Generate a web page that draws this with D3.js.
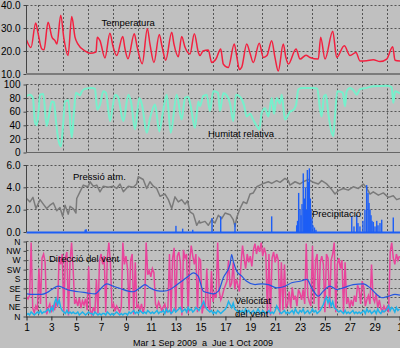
<!DOCTYPE html>
<html>
<head>
<meta charset="utf-8">
<script src="https://cdn.jsdelivr.net/npm/d3@7"></script>
<style>
  html, body { margin: 0; padding: 0; background: #c0c0c0; }
  svg { display: block; }
  text { font-family: "Liberation Sans", Arial, sans-serif; fill: #000; }
</style>
</head>
<body>
<svg id="chart" width="400" height="348"></svg>
<script>
// Weather station, 1 Sep 2009 – 1 Oct 2009. Times are days since 1 Sep 00:00.

// Temperature (°C)
const temperature = [
  [0.00,24.8],[0.36,21.5],[0.74,32.2],[0.92,28],[1.22,21],[1.41,20.5],[1.73,32.5],[2.05,26],
  [2.29,24.5],[2.45,23],[2.75,35.5],[3.02,25],[3.34,18],[3.64,35],[3.90,26],[4.14,23],
  [4.71,20],[5.11,19],[5.59,19.5],[5.69,26],[5.91,24.5],[6.31,17],[6.71,27.7],[6.96,22],
  [7.25,18],[7.74,26.3],[7.92,21],[8.16,16.6],[8.67,27.5],[8.89,22],[9.31,14.5],[9.72,29.7],
  [9.93,23],[10.25,15],[10.68,27.2],[10.90,22],[11.20,16],[11.68,28.2],[11.86,23],[12.21,17.5],
  [12.48,26.3],[12.75,21.6],[13.15,18.7],[13.50,27.5],[13.82,19.4],[13.95,18],[14.20,20],
  [14.62,20.4],[14.90,15],[15.24,16.5],[15.62,20.9],[15.83,14.3],[16.23,12.8],[16.71,23],
  [16.93,17],[17.12,12],[17.31,13],[17.71,23],[17.98,19],[18.24,15],[18.72,23.4],[19.05,17.2],
  [19.34,18],[19.72,24.5],[19.99,17],[20.25,11.3],[20.65,23],[20.87,17],[21.06,14.3],
  [21.68,20.9],[22.00,16.5],[22.48,18.2],[22.80,17.2],[23.47,16.5],[23.66,26],[24.01,16.5],
  [24.63,28.6],[24.95,17.2],[25.56,22.3],[26.02,18],[26.50,19.4],[26.82,15.7],[27.36,15.8],
  [27.89,16.2],[28.43,15.4],[28.97,16.5],[29.45,21.9],[29.64,16],[30.04,15.6]
];

// Relative humidity (%)
const humidity = [
  [0.00,83],[0.28,85],[0.52,80],[0.68,44],[0.80,40],[0.92,50],[1.09,85],[1.35,86],[1.62,39],
  [1.81,55],[2.03,75],[2.21,74],[2.37,46],[2.56,19],[2.77,9],[2.94,40],[3.10,75],[3.36,77],
  [3.64,22],[3.82,60],[3.98,88],[4.30,84],[4.46,90],[4.71,93.6],[5.24,95],[5.51,94],[5.69,63],
  [5.91,70],[6.18,90],[6.39,88],[6.72,46],[7.12,85],[7.36,82],[7.79,46],[8.19,85],[8.40,75],
  [8.73,34],[9.07,80],[9.29,70],[9.67,29],[9.93,50],[10.34,70.6],[10.68,31],[10.98,60],
  [11.28,85],[11.60,29],[12.08,85],[12.48,48.5],[12.75,80],[12.99,82],[13.19,70],[13.55,36],
  [13.82,75],[13.95,68],[14.22,83],[14.49,85],[14.76,61],[15.02,90],[15.40,88],[15.56,61],
  [15.83,87],[16.10,84],[16.37,72],[16.63,46],[16.85,85],[17.17,82],[17.49,70],[17.71,53],
  [17.98,57],[18.24,48],[18.52,38.7],[18.72,33.8],[18.92,58],[19.18,65],[19.45,53],[19.72,80],
  [19.91,57],[20.12,80],[20.39,72],[20.53,85],[20.79,48.5],[21.19,60],[21.43,62],[21.68,70],
  [21.86,92.6],[22.13,95],[23.07,95],[23.39,94],[23.61,63],[23.74,53],[23.93,83],[24.09,85],
  [24.27,58],[24.55,29],[24.68,24],[24.81,53],[25.00,90],[25.43,88],[25.62,68],[25.75,90],
  [26.02,95],[26.28,92],[26.56,85],[26.82,93],[27.36,95],[27.89,97.5],[28.97,98],[29.37,96],
  [29.50,73],[29.64,90],[30.04,87]
];

// Atmospheric pressure (drawn on the 0–6 scale of the third panel)
const pressure = [
  [0.00,3.0],[0.28,2.7],[0.52,3.1],[0.76,2.1],[1.09,2.9],[1.35,2.5],[1.62,2.1],[1.89,2.4],
  [2.16,2.6],[2.43,1.9],[2.69,2.2],[2.91,1.4],[3.10,2.4],[3.36,1.6],[3.50,2.3],[3.76,2.1],
  [3.98,1.7],[4.04,3.0],[4.30,3.6],[4.57,4.2],[4.79,4.1],[4.97,4.1],[5.11,4.5],[5.37,4.1],
  [5.65,4.2],[5.91,3.6],[6.18,4.1],[6.58,4.0],[6.98,4.1],[7.25,3.9],[7.52,4.3],[7.79,3.6],
  [8.19,4.1],[8.59,4.0],[8.86,4.3],[8.99,4.95],[9.39,4.7],[9.67,3.9],[9.93,4.5],[10.20,4.1],
  [10.47,3.9],[10.74,3.2],[11.14,3.4],[11.41,2.9],[11.68,2.1],[11.94,3.15],[12.21,2.7],
  [12.48,2.9],[12.75,2.5],[12.95,2.8],[13.15,1.8],[13.42,1.6],[13.69,0.6],[13.90,1.0],
  [13.95,0.8],[14.36,0.95],[14.62,0.6],[14.90,1.1],[15.16,0.8],[15.43,1.5],[15.70,1.2],
  [15.97,1.7],[16.37,1.55],[16.63,1.1],[16.77,0.5],[16.91,1.3],[17.17,2.1],[17.44,2.7],
  [17.71,2.55],[17.98,3.4],[18.24,3.5],[18.52,4.05],[18.78,4.2],[19.05,4.35],[19.45,4.5],
  [19.72,4.35],[20.12,4.6],[20.39,4.45],[20.79,4.8],[21.06,4.6],[21.19,4.2],[21.60,4.5],
  [22.00,4.3],[22.26,4.5],[22.67,4.7],[23.07,4.45],[23.47,4.3],[23.74,4.6],[24.15,4.3],
  [24.55,3.8],[24.81,3.4],[25.08,3.7],[25.48,3.9],[25.88,3.75],[26.28,4.05],[26.69,3.9],
  [27.09,4.3],[27.36,3.95],[27.63,3.4],[27.89,3.6],[28.30,3.3],[28.70,3.5],[29.10,3.1],
  [29.50,3.25],[29.77,2.9],[30.04,3.0]
];

// Precipitation (mm)
const precipitation = [
  [4.72,0.2],[4.80,0.25],[12.02,0.55],[12.56,0.3],[13.37,0.2],[14.92,1.25],[15.62,1.4],
  [16.77,0.8],[19.72,1.4],
  [21.73,0.6],[21.80,1.0],[21.89,3.5],[22.00,2.0],[22.08,1.5],[22.16,2.5],[22.26,5.25],
  [22.36,3.0],[22.44,4.0],[22.52,2.0],[22.59,5.55],[22.67,4.5],[22.75,5.7],[22.83,3.0],
  [22.88,2.0],[22.96,1.2],[23.04,0.6],[23.16,0.4],[23.28,0.2],
  [26.16,1.4],[26.34,0.5],[26.56,1.5],[26.66,0.8],[26.82,0.5],[27.06,1.0],[27.22,2.0],
  [27.36,4.2],[27.47,3.5],[27.55,2.6],[27.63,2.0],[27.71,1.5],[27.79,1.0],[27.89,0.9],
  [28.03,0.5],[28.17,1.0],[28.27,0.6],[28.43,0.8],[28.57,1.1],[29.50,1.3]
];

// Wind direction (degrees), one reading every 3 hours
const windDirection = [
  95,85,100,355,40,20,50,30,230,60,280,300,260,10,40,60,20,55,30,70,
  45,290,250,300,20,280,310,5,260,355,230,60,80,50,90,40,75,55,85,30,
  240,30,10,45,20,180,15,270,300,250,290,20,280,355,260,40,60,25,50,35,
  20,45,355,250,290,230,30,270,300,10,260,40,55,30,60,20,45,355,200,220,
  190,230,210,60,40,70,50,30,45,60,20,50,300,10,280,330,20,290,310,260,
  5,320,280,300,15,270,340,290,250,300,20,280,270,15,60,40,230,50,30,220,
  70,110,90,355,120,80,100,130,150,170,270,140,160,260,130,180,150,120,250,340,
  280,230,300,260,290,240,320,350,300,340,310,355,290,330,300,10,300,5,280,310,
  260,300,270,10,260,30,250,40,60,120,40,140,80,100,50,130,110,80,130,60,
  350,100,70,50,340,60,270,300,30,260,290,250,20,300,280,40,270,300,355,20,
  250,280,230,270,20,260,60,90,40,80,50,100,70,150,130,60,170,140,50,80,
  100,60,250,90,70,110,40,80,40,25,50,30,45,20,310,355,280,250,300,270,
  290
];

// Wind speed (km/h), one reading every 3 hours
const windSpeed = [
  1,2,1,3,2,1,2, 3,2,4,2,3,3, 4,5,3,6,4, 9,12,8,11,6,4, 3,2,4,2,3,2,3,2,
  2,3,1,2,3,2,1,2,3,2,2,1,3,2,1,2, 1,2,2,1,3,2,1,2,1,2,3,2,1,2,1,2,2,1,3,
  2,3,4,2,3,2,4,3,2,3,2,4,3,2,3,2,3,4,2,3, 3,4,2,5,3,4,2,3,5,3,
  4,5,6,3,4,5,3,6,4,5,3,4,6,5,4, 6,8,10,7,5,4,3,4, 2,3,2,4,3,2,3,4,
  5,7,10,8,6,9,5,4,3,4, 3,4,2,5,3,4,2,3,4,2,3,5,3,2,4,3,
  2,3,4,2,3,2,4,7,5,3,2,3,4,2,3,2, 3,4,2,5,3,2,4,3,5,2,3,4,2,3,5,3,4,2,3,4,
  6,8,11,13,9,12,7,10,6,5,4,3,4, 3,2,4,2,3,2,3,4,2,3,2,3,2,
  3,4,2,5,3,4,2,3,4,2,5,3,2,4,3, 4,5,7,4,6,5,3,6,4,5
];

// Maximum gust (km/h)
const windGust = [
  [0.00,15.1],[0.55,14.7],[1.22,14.7],[1.62,15.8],[2.03,18],[2.56,20.2],[2.83,19.7],[3.23,18],
  [3.64,17.3],[4.17,16.5],[4.84,15.8],[5.51,15.1],[5.91,18],[6.45,21.8],[6.98,20.2],[7.52,18.7],
  [8.19,16.9],[8.59,16.5],[9.13,19.1],[9.53,21.3],[9.93,19.1],[10.47,17.3],[11.00,16.9],
  [11.54,18],[11.94,20.2],[12.48,23.5],[13.02,26.9],[13.42,29.1],[13.82,26.7],[13.95,23.5],
  [14.22,16.9],[14.62,15.8],[15.03,15.1],[15.43,16.9],[15.83,25.8],[16.37,34.7],[16.50,41.3],
  [16.63,36.9],[16.91,30.2],[17.31,26.9],[17.71,23.5],[18.38,21.3],[18.92,21.8],[19.45,21.3],
  [20.12,19.1],[20.79,20.2],[21.33,22.5],[22.00,23.5],[22.54,24.7],[22.94,19.1],[23.47,13.5],
  [23.87,16.9],[24.41,20.2],[24.95,18],[25.48,19.1],[26.28,21.3],[27.09,21.8],[27.63,19.1],
  [28.17,14.7],[28.57,12.5],[29.10,13.5],[29.64,14.7],[30.04,14.2]
];

const humidityTicks = [0, 20, 40, 60, 80, 100];
const temperatureTicks = [10, 20, 30, 40];
const precipitationTicks = [0, 2, 4, 6];
const directionTicks = [0, 45, 90, 135, 180, 225, 270, 315, 360];
const directionNames = ["N", "NE", "E", "SE", "S", "SW", "W", "NW", "N"];
const periodLabel = "Mar 1 Sep 2009  a  Jue 1 Oct 2009";

// ---------------------------------------------------------------------------
const start = Date.UTC(2009, 8, 1);
const end = Date.UTC(2009, 9, 1);
const DAY = 864e5;
const at = d => new Date(start + d * DAY);

const svg = d3.select("#chart");
const x = d3.scaleUtc().domain([start, end]).range([26.5, 399.5]);
const xMax = 400;

const panels = [
  { top: 5,     bottom: 74 },
  { top: 84.5,  bottom: 152.5 },
  { top: 165,   bottom: 232 },
  { top: 241.5, bottom: 316.5 }
];

const yTemp = d3.scaleLinear().domain([10, 40]).range([panels[0].bottom, panels[0].top]);
const yHum  = d3.scaleLinear().domain([0, 100]).range([panels[1].bottom, panels[1].top]);
const yPre  = d3.scaleLinear().domain([0, 6]).range([panels[2].bottom, panels[2].top]);
const yDir  = d3.scaleLinear().domain([0, 360]).range([panels[3].bottom, panels[3].top]);
const ySpd  = d3.scaleLinear().domain([0, 50]).range([panels[3].bottom, panels[3].top]);

const days = d3.utcDay.range(new Date(start), new Date(end + 1));
const evenDays = days.filter(d => d.getUTCDate() % 2 === 0);
const oddDays = days.filter(d => d.getUTCDate() % 2 === 1);
const crisp = v => Math.round(v - 0.5) + 0.5;

const grid = svg.append("g");
const marks = svg.append("g");
const axes = svg.append("g");

function frame(y, ticks, fmt, panel, fontSize) {
  // dotted grid
  grid.selectAll(null).data(ticks.filter(t => crisp(y(t)) !== crisp(panel.bottom)))
    .join("line")
    .attr("x1", 26.5).attr("x2", xMax)
    .attr("y1", d => crisp(y(d))).attr("y2", d => crisp(y(d)))
    .attr("stroke", "#555").attr("stroke-dasharray", "2,2");
  grid.selectAll(null).data(evenDays)
    .join("line")
    .attr("x1", d => crisp(x(d))).attr("x2", d => crisp(x(d)))
    .attr("y1", panel.top).attr("y2", panel.bottom)
    .attr("stroke", "#555").attr("stroke-dasharray", "2,2");
  // left axis
  const g = axes.append("g").attr("transform", "translate(26.5,0)")
    .call(d3.axisLeft(y).tickValues(ticks).tickFormat(fmt).tickSize(3).tickPadding(3));
  g.select(".domain").remove();
  g.selectAll(".tick line").attr("stroke", "#444");
  g.selectAll(".tick text").attr("font-size", fontSize)
    .attr("font-family", "Liberation Sans, Arial, sans-serif").attr("fill", "#000");
  axes.append("line").attr("x1", 26.5).attr("x2", 26.5)
    .attr("y1", panel.top).attr("y2", panel.bottom).attr("stroke", "#444");
}

frame(yTemp, temperatureTicks, d3.format(".1f"), panels[0], 10);
frame(yHum, humidityTicks, d3.format("d"), panels[1], 10);
frame(yPre, precipitationTicks, d3.format(".1f"), panels[2], 10);
frame(yDir, directionTicks, (d, i) => directionNames[i], panels[3], 8.5);

// panel base lines
axes.append("line").attr("x1", 26).attr("x2", xMax).attr("y1", 74).attr("y2", 74)
  .attr("stroke", "#7c7c7c").attr("stroke-width", 2);
axes.append("line").attr("x1", 26).attr("x2", xMax).attr("y1", 152.5).attr("y2", 152.5)
  .attr("stroke", "#666").attr("stroke-width", 1.2);

// clip for plot areas
const defs = svg.append("defs");
panels.forEach((p, i) => {
  defs.append("clipPath").attr("id", "clip" + i)
    .append("rect").attr("x", 27).attr("y", p.top - 1).attr("width", xMax - 27).attr("height", p.bottom - p.top + 1.5);
});

const line = (y, curve) => d3.line().x(d => x(at(d[0]))).y(d => y(d[1])).curve(curve || d3.curveLinear);

// Temperature
marks.append("path").datum(temperature).attr("clip-path", "url(#clip0)")
  .attr("d", line(yTemp, d3.curveMonotoneX)).attr("fill", "none").attr("stroke", "#f2203f")
  .attr("stroke-width", 1.5).attr("stroke-linejoin", "round");

// Humidity
marks.append("path").datum(humidity).attr("clip-path", "url(#clip1)")
  .attr("d", line(yHum, d3.curveMonotoneX)).attr("fill", "none").attr("stroke", "#76f0cc")
  .attr("stroke-width", 2).attr("stroke-linejoin", "round");

// Pressure
marks.append("path").datum(pressure).attr("clip-path", "url(#clip2)")
  .attr("d", line(yPre)).attr("fill", "none").attr("stroke", "#7a7a7a").attr("stroke-width", 1.5)
  .attr("stroke-linejoin", "round");

// Precipitation bars and baseline
marks.append("g").attr("clip-path", "url(#clip2)").selectAll("rect").data(precipitation)
  .join("rect")
  .attr("x", d => x(at(d[0])) - 0.7).attr("width", 1.4)
  .attr("y", d => yPre(d[1])).attr("height", d => yPre(0) - yPre(d[1]))
  .attr("fill", "#1d5ef5");
marks.append("line").attr("x1", 26.5).attr("x2", xMax)
  .attr("y1", yPre(0) + 0.5).attr("y2", yPre(0) + 0.5)
  .attr("stroke", "#1d5ef5").attr("stroke-width", 2);

// Wind direction, speed and gust
const step = 3 / 24;
marks.append("path").datum(windDirection).attr("clip-path", "url(#clip3)")
  .attr("d", d3.line().x((d, i) => x(at(i * step))).y(d => yDir(d)))
  .attr("fill", "none").attr("stroke", "#e8459b").attr("stroke-width", 1.5);
marks.append("path").datum(windSpeed).attr("clip-path", "url(#clip3)")
  .attr("d", d3.line().x((d, i) => x(at(i * step))).y(d => ySpd(d)))
  .attr("fill", "none").attr("stroke", "#1fb2e8").attr("stroke-width", 1.5);
marks.append("path").datum(windGust).attr("clip-path", "url(#clip3)")
  .attr("d", line(ySpd, d3.curveMonotoneX)).attr("fill", "none").attr("stroke", "#2456e0")
  .attr("stroke-width", 1.2);

// bottom time axis
const xa = axes.append("g").attr("transform", `translate(0,${panels[3].bottom})`)
  .call(d3.axisBottom(x).tickValues(oddDays).tickFormat(d3.utcFormat("%-d")).tickSize(4).tickPadding(3));
xa.select(".domain").remove();
xa.selectAll(".tick line").attr("stroke", "#222");
xa.selectAll(".tick text").attr("font-size", 10)
  .attr("font-family", "Liberation Sans, Arial, sans-serif").attr("fill", "#000");
axes.append("line").attr("x1", 26).attr("x2", xMax)
  .attr("y1", panels[3].bottom + 0.5).attr("y2", panels[3].bottom + 0.5).attr("stroke", "#333");

// labels
const labels = svg.append("g").attr("font-size", 9.5);
const label = (t, lx, ly) => labels.append("text").attr("x", lx).attr("y", ly).text(t);
label("Temperatura", 101.5, 25.5);
label("Humitat relativa", 208, 136.5);
label("Pressió atm.", 73, 180);
label("Precipitació", 312, 216.5);
label("Direcció del vent", 49, 262);
label("Velocitat", 235, 303.5);
label("del vent", 235, 316.5);

svg.append("text").attr("x", 203).attr("y", 346).attr("text-anchor", "middle")
  .attr("font-size", 9).style("white-space", "pre").text(periodLabel);
</script>
</body>
</html>
